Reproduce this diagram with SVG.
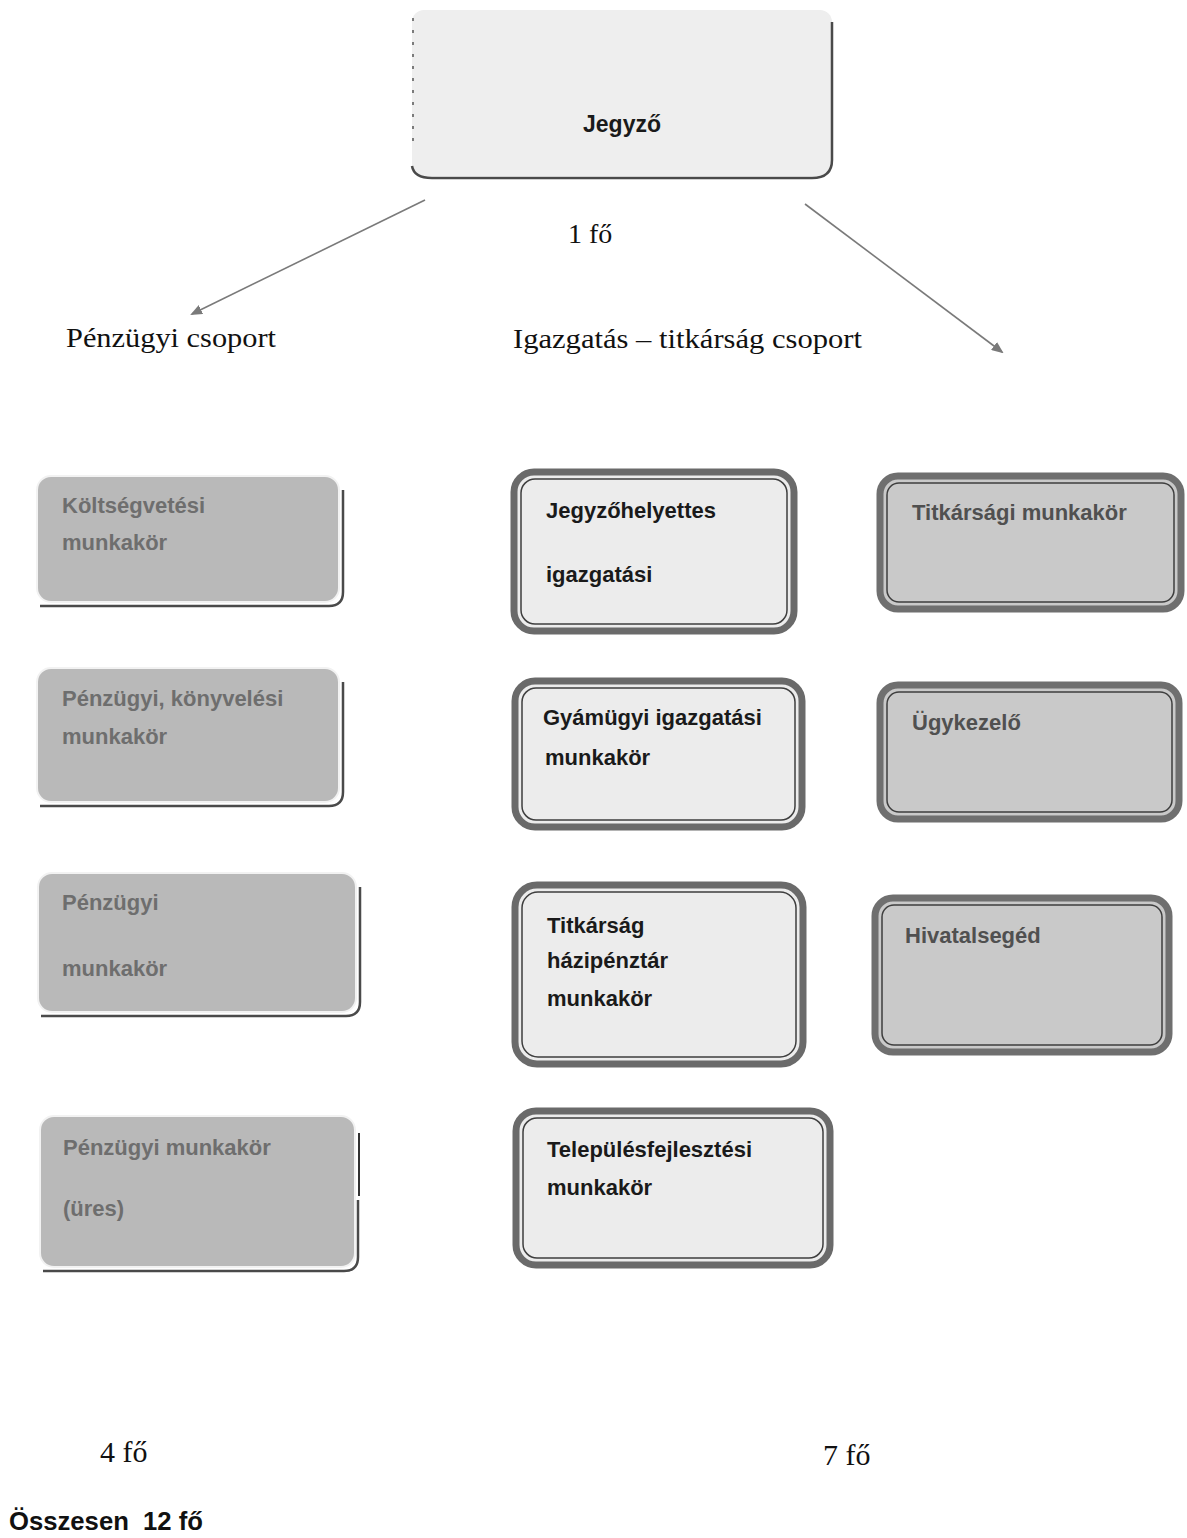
<svg xmlns="http://www.w3.org/2000/svg" width="1187" height="1538" viewBox="0 0 1187 1538">
<defs>
<marker id="ah" markerWidth="12" markerHeight="10" refX="10" refY="5" orient="auto" markerUnits="userSpaceOnUse">
<path d="M0,0 L12,5 L0,10 Z" fill="#7a7a7a"/>
</marker>
</defs>
<style>
.serif{font-family:"Liberation Serif","Times New Roman",serif;fill:#111;}
.lbl{font-family:"Liberation Sans",Arial,sans-serif;font-weight:bold;font-size:22px;}
.gray-txt{fill:#6e6e6e;}
.dark-txt{fill:#1a1a1a;}
.rgt-txt{fill:#505050;}
.lbox{fill:#b9b9b9;stroke:#f2f2f2;stroke-width:2;}
.lshadow{fill:none;stroke:#4a4a4a;stroke-width:2.5;}
.mbox{fill:#ececec;stroke:#6a6a6a;stroke-width:7;}
.rbox{fill:#c9c9c9;stroke:#6f6f6f;stroke-width:7;}
.inner{fill:none;stroke:#3e3e3e;stroke-width:1.5;}
.conn{stroke:#7a7a7a;stroke-width:1.6;fill:none;}
</style>
<rect width="1187" height="1538" fill="#ffffff"/>

<g id="jegyzo">
<rect x="412" y="10" width="420" height="166" rx="12" fill="#eeeeee"/>
<path d="M832,22 L832,160 Q832,178 812,178 L432,178 Q414,178 412,166" class="lshadow" stroke="#5a5a5a"/>
<line x1="413" y1="18" x2="413" y2="150" stroke="#555" stroke-width="1.5" stroke-dasharray="3,9"/>
<text x="622" y="132" text-anchor="middle" class="lbl dark-txt" style="font-size:23px">Jegyző</text>
</g>

<text class="serif" x="568" y="243" font-size="28">1 fő</text>

<g id="connectors">
<line class="conn" x1="425" y1="200" x2="192" y2="314" marker-end="url(#ah)"/>
<line class="conn" x1="805" y1="204" x2="1002" y2="352" marker-end="url(#ah)"/>
</g>

<text class="serif" x="66" y="347" font-size="27" textLength="210" lengthAdjust="spacingAndGlyphs">Pénzügyi csoport</text>
<text class="serif" x="513" y="348" font-size="27" textLength="349" lengthAdjust="spacingAndGlyphs">Igazgatás – titkárság csoport</text>

<g id="koltsegvetesi">
<rect class="lbox" x="37" y="476" width="302" height="126" rx="14"/>
<path class="lshadow" d="M343,490 L343,592 Q343,606 329,606 L40,606"/>
<text class="lbl gray-txt" x="62" y="513">Költségvetési</text>
<text class="lbl gray-txt" x="62" y="550">munkakör</text>
</g>

<g id="penzugyi-konyvelesi">
<rect class="lbox" x="37" y="668" width="302" height="134" rx="14"/>
<path class="lshadow" d="M343,682 L343,792 Q343,806 329,806 L40,806"/>
<text class="lbl gray-txt" x="62" y="706">Pénzügyi, könyvelési</text>
<text class="lbl gray-txt" x="62" y="744">munkakör</text>
</g>

<g id="penzugyi">
<rect class="lbox" x="38" y="873" width="318" height="139" rx="14"/>
<path class="lshadow" d="M360,887 L360,1002 Q360,1016 346,1016 L41,1016"/>
<text class="lbl gray-txt" x="62" y="910">Pénzügyi</text>
<text class="lbl gray-txt" x="62" y="976">munkakör</text>
</g>

<g id="penzugyi-ures">
<rect class="lbox" x="40" y="1116" width="315" height="151" rx="14"/>
<path class="lshadow" d="M358,1200 L358,1257 Q358,1271 344,1271 L43,1271"/>
<line x1="359" y1="1133" x2="359" y2="1196" stroke="#333" stroke-width="2"/>
<text class="lbl gray-txt" x="63" y="1155">Pénzügyi munkakör</text>
<text class="lbl gray-txt" x="63" y="1216">(üres)</text>
</g>

<g id="jegyzohelyettes">
<rect class="mbox" x="514" y="472" width="280" height="159" rx="20"/>
<rect class="inner" x="521" y="479" width="266" height="145" rx="14"/>
<text class="lbl dark-txt" x="546" y="518">Jegyzőhelyettes</text>
<text class="lbl dark-txt" x="546" y="582">igazgatási</text>
</g>

<g id="gyamugyi">
<rect class="mbox" x="515" y="681" width="287" height="146" rx="20"/>
<rect class="inner" x="522" y="688" width="273" height="132" rx="14"/>
<text class="lbl dark-txt" x="543" y="725">Gyámügyi igazgatási</text>
<text class="lbl dark-txt" x="545" y="765">munkakör</text>
</g>

<g id="titkarsag-hazipenztar">
<rect class="mbox" x="515" y="885" width="288" height="179" rx="22"/>
<rect class="inner" x="522" y="892" width="274" height="165" rx="16"/>
<text class="lbl dark-txt" x="547" y="933">Titkárság</text>
<text class="lbl dark-txt" x="547" y="968">házipénztár</text>
<text class="lbl dark-txt" x="547" y="1006">munkakör</text>
</g>

<g id="telepulesfejlesztesi">
<rect class="mbox" x="516" y="1111" width="314" height="154" rx="20"/>
<rect class="inner" x="523" y="1118" width="300" height="140" rx="14"/>
<text class="lbl dark-txt" x="547" y="1157">Településfejlesztési</text>
<text class="lbl dark-txt" x="547" y="1195">munkakör</text>
</g>

<g id="titkarsagi">
<rect class="rbox" x="880" y="476" width="301" height="133" rx="18"/>
<rect class="inner" x="887" y="483" width="287" height="119" rx="12" stroke="#555"/>
<text class="lbl rgt-txt" x="912" y="520">Titkársági munkakör</text>
</g>

<g id="ugykezelo">
<rect class="rbox" x="880" y="685" width="299" height="134" rx="18"/>
<rect class="inner" x="887" y="692" width="285" height="120" rx="12" stroke="#555"/>
<text class="lbl rgt-txt" x="912" y="730">Ügykezelő</text>
</g>

<g id="hivatalseged">
<rect class="rbox" x="875" y="898" width="294" height="154" rx="18"/>
<rect class="inner" x="882" y="905" width="280" height="140" rx="12" stroke="#555"/>
<text class="lbl rgt-txt" x="905" y="943">Hivatalsegéd</text>
</g>

<text class="serif" x="100" y="1462" font-size="30">4 fő</text>
<text class="serif" x="823" y="1465" font-size="30">7 fő</text>
<text x="9" y="1530" font-family="Liberation Sans, Arial, sans-serif" font-weight="bold" font-size="25" fill="#111" textLength="194" lengthAdjust="spacingAndGlyphs" xml:space="preserve">Összesen  12 fő</text>
</svg>
